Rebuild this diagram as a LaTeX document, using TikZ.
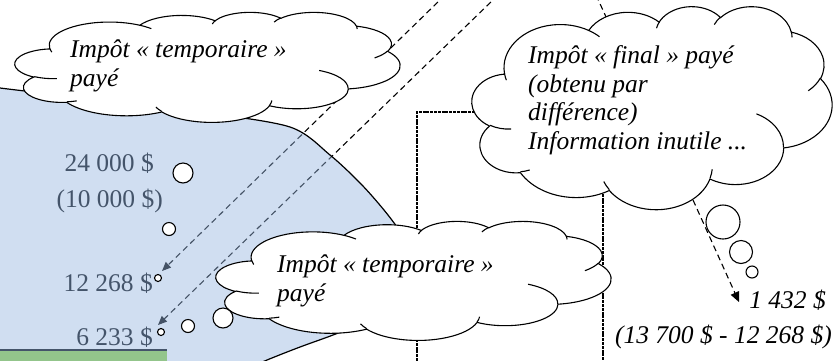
\documentclass[tikz,border=0pt]{standalone}
\usepackage{fontspec}
\setmainfont{Liberation Serif}
\usetikzlibrary{arrows.meta}
\definecolor{slate}{HTML}{44546A}
\definecolor{bluefill}{RGB}{151,182,224}
\definecolor{barfill}{HTML}{93C58B}
\newcommand\oarc[4]{arc[x radius=#1, y radius=#2, start angle={atan2((#1)*sin(#3),(#2)*cos(#3))}, delta angle={mod(atan2((#1)*sin((#3)+(#4)),(#2)*cos((#3)+(#4)))-atan2((#1)*sin(#3),(#2)*cos(#3))+720,360)}]}
\newcommand\officecloud[4]{%
  \pgfmathsetmacro\cldsx{#3/432}\pgfmathsetmacro\cldsy{#4/432}%
  \begin{scope}[shift={(#1,#2)}, x=\cldsx pt, y=-\cldsy pt]
    \filldraw[cloudline, fill=white] (39.00,143.70)
      \oarc{67.53}{91.90}{-190.4875}{123.7805}
      \oarc{53.33}{72.67}{-144.10238}{89.94523}
      \oarc{43.65}{59.45}{-145.80792}{99.72302}
      \oarc{48.57}{65.95}{-130.98607}{117.24173}
      \oarc{53.33}{72.73}{-78.70888}{109.02692}
      \oarc{67.75}{92.20}{-46.26725}{130.26900}
      \oarc{57.85}{78.67}{0.62502}{114.03333}
      \oarc{67.52}{92.15}{22.4516}{115.17255}
      \oarc{77.20}{105.43}{66.24263}{75.71102}
      \oarc{43.60}{59.18}{-274.94208}{146.73557}
      \oarc{43.45}{59.45}{-246.8285}{152.51885} -- cycle;
    \draw[cloudline]
      (46.93,261.77) \oarc{43.45}{59.45}{86.742}{26.4295}
      (69.28,348.99) \oarc{43.60}{59.18}{73.61047}{11.44747}
      (164.78,390.90) \oarc{67.52}{92.15}{137.62415}{14.0811}
      (288.27,347.51) \oarc{67.52}{92.15}{6.45327}{15.99835}
      (341.29,229.54) \oarc{57.85}{78.67}{-70.29235}{70.91737}
      (417.98,153.54) \oarc{53.33}{72.73}{30.31803}{27.7515}
      (383.24,54.26) \oarc{48.57}{65.95}{-13.74433}{14.8589}
      (290.78,39.52) \oarc{48.57}{65.95}{-149.18145}{18.19537}
      (221.41,47.20) \oarc{43.65}{59.45}{-163.49427}{17.68635}
      (140.00,51.92) \oarc{67.53}{91.90}{-66.70695}{12.31935}
      (41.27,157.89) \oarc{67.53}{91.90}{157.65435}{11.85817};
  \end{scope}}
\tikzset{
  cloudline/.style={line width=1.1pt, black},
  dashconn/.style={line width=1.1pt, dash pattern=on 6pt off 4pt},
  rectline/.style={line width=2.6pt, dash pattern=on 3pt off 0.8pt},
  bluetxt/.style={text=slate, font=\fontsize{25.5}{28.5}\selectfont, inner sep=0pt},
  cloudtxt/.style={font=\fontsize{25.5}{28.5}\selectfont\itshape, inner sep=0pt, align=left},
  righttxt/.style={font=\fontsize{25.5}{28.5}\selectfont\itshape, inner sep=0pt},
  bubble/.style={cloudline, fill=white}
}
\begin{document}
\begin{tikzpicture}[x=1pt,y=-1pt]
\useasboundingbox (0,0) rectangle (834,360);
\clip (0,0) rectangle (834,360);
% dashed rectangle
\draw[rectline] (417,380) -- (417,112) -- (603,112) -- (603,380);
% connectors from above
\coordinate (topA) at (445.1,-5);
\coordinate (tipA) at (162,271);
\coordinate (topB) at (498.1,-5);
\coordinate (tipB) at (158,325);
\coordinate (topC) at (596,-5);
\coordinate (intoC) at (612,30);
\draw[dashconn, -{Triangle[length=9pt,width=7.5pt]}] (topA) -- (tipA);
\draw[dashconn, -{Triangle[length=9pt,width=7.5pt]}] (topB) -- (tipB);
\draw[dashconn] (topC) -- (intoC);
% blue region
\filldraw[line width=1.2pt, fill=bluefill, fill opacity=0.45, draw opacity=1]
  plot[smooth] coordinates {(-20,85) (0,88) (100,100) (200,112) (290,127) (330,155) (362,185) (388,215) (405,240) (411,265) (402,298) (370,320) (333,335) (300,347) (267,360) (240,372)}
  -- (240,390) -- (-20,390) -- cycle;
% green bar
\fill[barfill] (-5,350) rectangle (167,370);
\draw[slate, line width=2pt] (-5,350) -- (167,350);
% amounts
\node[bluetxt, anchor=base east] (t24) at (154,171) {24 000 \$};
\node[bluetxt, anchor=base east] (t10) at (163,207) {(10 000 \$)};
\node[bluetxt, anchor=base east] (t12) at (153,291) {12 268 \$};
\node[bluetxt, anchor=base east] (t6) at (153,345) {6 233 \$};
% clouds
\officecloud{15}{12}{385}{110}
\officecloud{472}{6}{360}{203}
\officecloud{216}{221}{395}{119}
% bubbles
\draw[bubble] (183,173) circle[radius=10];
\draw[bubble] (169,229) circle[radius=6.5];
\draw[bubble] (158,278) circle[radius=3.5];
\draw[bubble] (223,318) circle[radius=10];
\draw[bubble] (188,326) circle[radius=6.5];
\draw[bubble] (161,332) circle[radius=3.5];
\draw[bubble] (723,222) circle[radius=17];
\draw[bubble] (741,252) circle[radius=11.5];
\draw[bubble] (752,272) circle[radius=6];
% cloud texts (anchored at the baseline of the last line)
\node[cloudtxt, anchor=base west] (c1) at (70,86) {Impôt « temporaire »\\payé};
\node[cloudtxt, anchor=base west] (c2) at (528,149) {Impôt « final » payé\\(obtenu par\\différence)\\Information inutile ...};
\node[cloudtxt, anchor=base west] (c3) at (277,301) {Impôt « temporaire »\\payé};
% result
\coordinate (c2out) at (693,200);
\coordinate (tipC) at (739,302);
\draw[dashconn, -{Triangle[length=10pt,width=9pt]}] (c2out) -- (tipC);
\node[righttxt, anchor=base east] (r1) at (826,308) {1 432 \$};
\node[righttxt, anchor=base east] (r2) at (832,343) {(13 700 \$ - 12 268 \$)};
\end{tikzpicture}
\end{document}
